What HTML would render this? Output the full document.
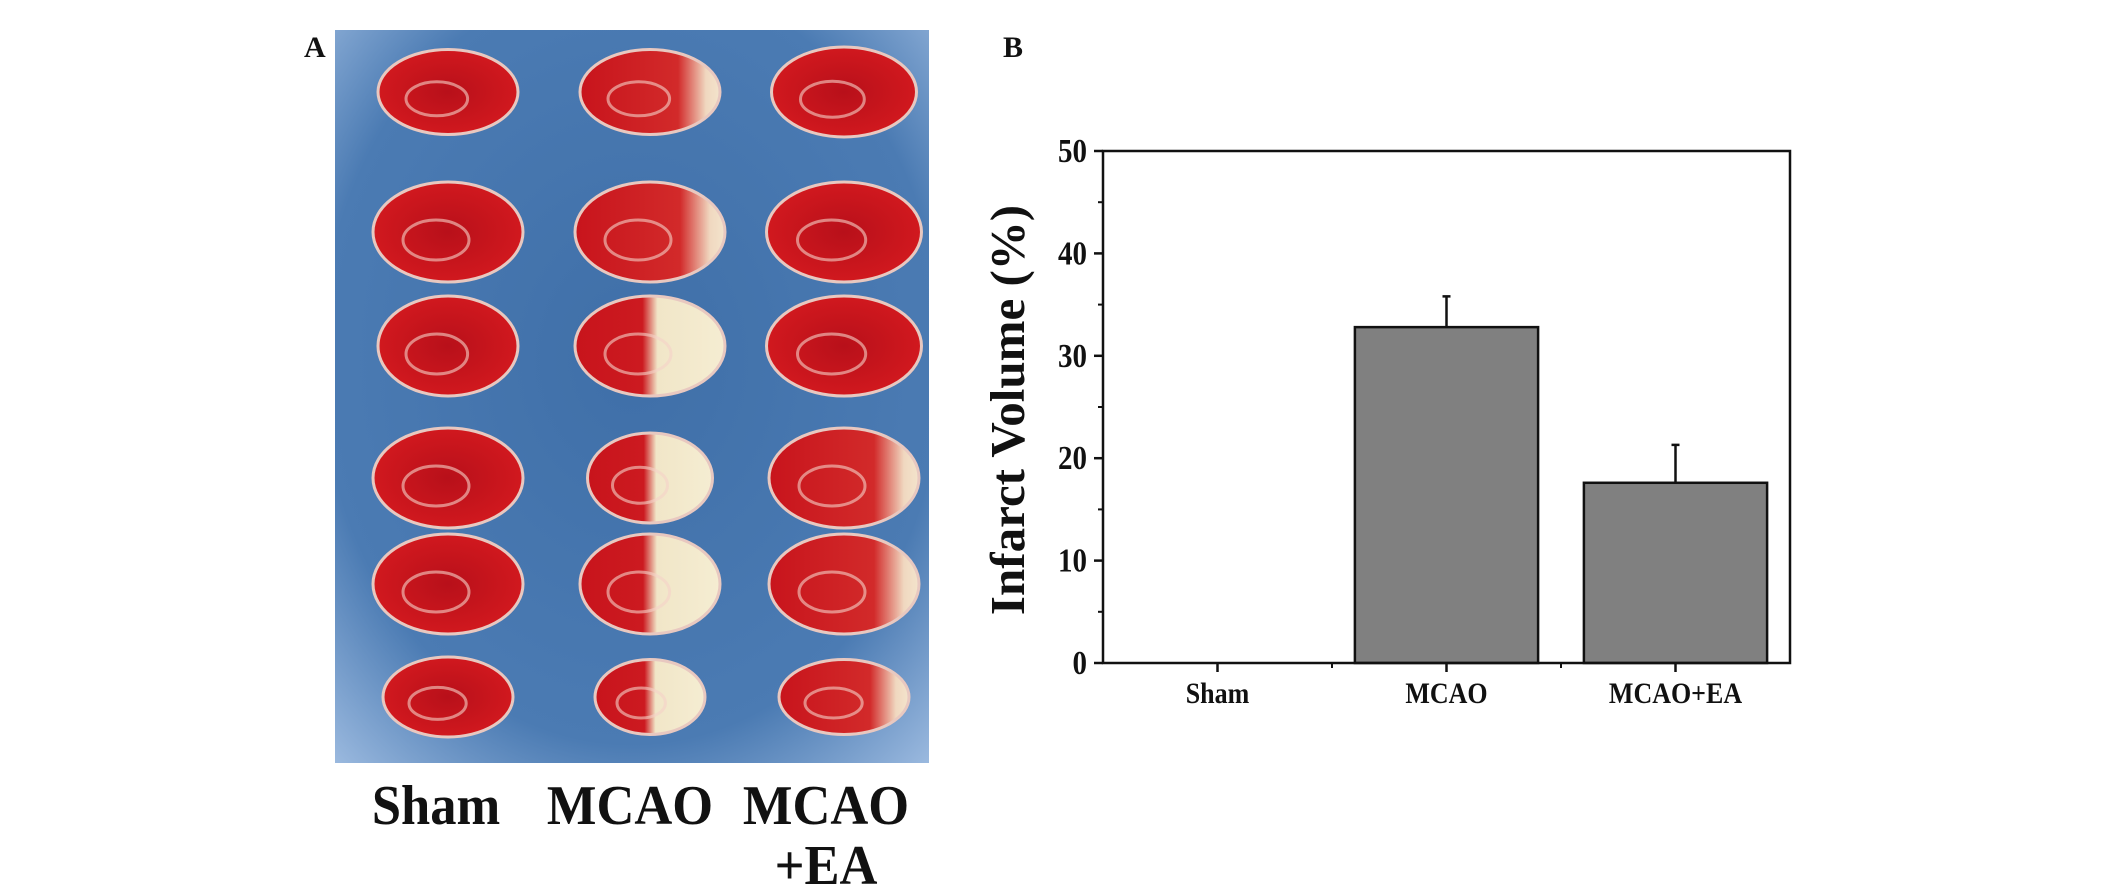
<!DOCTYPE html>
<html><head><meta charset="utf-8"><style>
html,body{margin:0;padding:0;background:#fff;width:2126px;height:895px;overflow:hidden}
svg text{font-family:"Liberation Serif",serif;font-weight:bold;fill:#111}
</style></head><body>
<svg width="2126" height="895" viewBox="0 0 2126 895">
<defs>
<radialGradient id="bg" cx="50%" cy="45%" r="75%"><stop offset="0" stop-color="#3f6fa8"/><stop offset="0.7" stop-color="#4b7bb3"/><stop offset="1" stop-color="#9dbbe0"/></radialGradient>
<linearGradient id="half" x1="0" x2="1" y1="0" y2="0"><stop offset="0" stop-color="#c8141c"/><stop offset="0.45" stop-color="#cc1a20"/><stop offset="0.55" stop-color="#f1e6c8"/><stop offset="1" stop-color="#f5edd2"/></linearGradient>
<linearGradient id="part" x1="0" x2="1" y1="0" y2="0"><stop offset="0" stop-color="#c8141c"/><stop offset="0.7" stop-color="#d22a2a"/><stop offset="0.9" stop-color="#f0d8c0"/><stop offset="1" stop-color="#f3e4cc"/></linearGradient>
<radialGradient id="red" cx="50%" cy="50%" r="60%"><stop offset="0" stop-color="#b8101a"/><stop offset="0.8" stop-color="#d0181e"/><stop offset="1" stop-color="#e85050"/></radialGradient>
</defs>
<text x="304" y="57" font-size="30">A</text>
<rect x="335" y="30" width="594" height="733" fill="url(#bg)"/>
<g id="slices"></g>
<g>
<text transform="translate(436,824) scale(1.05,1.12)" font-size="50" text-anchor="middle">Sham</text>
<text transform="translate(630,824) scale(1.05,1.12)" font-size="50" text-anchor="middle">MCAO</text>
<text transform="translate(826,824) scale(1.05,1.12)" font-size="50" text-anchor="middle">MCAO</text>
<text transform="translate(826,884) scale(1.05,1.12)" font-size="50" text-anchor="middle">+EA</text>
</g>
<text x="1003" y="57" font-size="30">B</text>
<g id="chart"></g>
</svg>
<script>
const NS='http://www.w3.org/2000/svg';
function mk(t,a,p){const e=document.createElementNS(NS,t);for(const k in a)e.setAttribute(k,a[k]);p.appendChild(e);return e;}
const sl=document.getElementById('slices');
const rowsY=[92,232,346,478,584,697];
const colsX=[448,650,844];
const rw=[[140,150,140,150,150,130],[140,150,150,125,140,110],[145,155,155,150,150,130]];
const rh=[[85,100,100,100,100,80],[85,100,100,90,100,75],[90,100,100,100,100,75]];
for(let c=0;c<3;c++)for(let r=0;r<6;r++){
  let fill='url(#red)';
  if(c===1)fill=r>=2?'url(#half)':'url(#part)';
  if(c===2&&r>=3)fill='url(#part)';
  const e=mk('ellipse',{cx:colsX[c],cy:rowsY[r],rx:rw[c][r]/2,ry:rh[c][r]/2,fill:fill,stroke:'#e8c8c0','stroke-width':3},sl);
  
  
  const h=mk('ellipse',{cx:colsX[c]-rw[c][r]*0.08,cy:rowsY[r]+rh[c][r]*0.08,rx:rw[c][r]*0.22,ry:rh[c][r]*0.2,fill:'none',stroke:'rgba(245,210,200,0.6)','stroke-width':3},sl);
  
  
}
const categories=['Sham','MCAO','MCAO+EA'];
const values=[0,32.8,17.6];
const errors=[0,3.0,3.7];
const yTicks=[0,10,20,30,40,50];
const L=1103,R=1790,T=151,B=663,yMax=50;
const g=document.getElementById('chart');
const y=v=>B-(v/yMax)*(B-T);
const band=(R-L)/categories.length;
const xc=i=>L+band*(i+0.5);
const bw=band*0.8;
values.forEach((v,i)=>{
  if(v<=0)return;
  const r=mk('rect',{x:xc(i)-bw/2,y:y(v),width:bw,height:B-y(v),fill:'#808080',stroke:'#111','stroke-width':2.5},g);
  
  
  const e=mk('path',{d:`M${xc(i)} ${y(v)}V${y(v+errors[i])}M${xc(i)-4} ${y(v+errors[i])}H${xc(i)+4}`,stroke:'#111','stroke-width':2.5,fill:'none'},g);
  
  
});
const f=mk('rect',{x:L,y:T,width:R-L,height:B-T,fill:'none',stroke:'#111','stroke-width':2.5},g);


yTicks.forEach(t=>{
  const l=mk('line',{x1:L-9,x2:L,y1:y(t),y2:y(t),stroke:'#111','stroke-width':2.5},g);
  
  
  const tx=mk('text',{x:0,y:0,'font-size':29,'text-anchor':'end',transform:`translate(1087,${y(t)+11}) scale(1,1.15)`},g);
  tx.textContent=t;
  
  
  if(t<yMax){const m=mk('line',{x1:L-5,x2:L,y1:y(t+5),y2:y(t+5),stroke:'#111','stroke-width':2},g);
  
  }
});
for(let i=1;i<categories.length;i++){
  const m=mk('line',{x1:L+band*i,x2:L+band*i,y1:B,y2:B+5,stroke:'#111','stroke-width':2},g);
  
  
}
categories.forEach((c,i)=>{
  const l=mk('line',{x1:xc(i),x2:xc(i),y1:B,y2:B+9,stroke:'#111','stroke-width':2.5},g);
  
  
  const tx=mk('text',{x:0,y:0,'font-size':26,'text-anchor':'middle',transform:`translate(${xc(i)},703) scale(1,1.15)`},g);
  tx.textContent=c;
  
  
});
const yt=mk('text',{x:0,y:0,'font-size':49,'text-anchor':'middle',transform:'translate(1024,410) rotate(-90)'},g);
yt.textContent='Infarct Volume (%)';


</script>
</body></html>
